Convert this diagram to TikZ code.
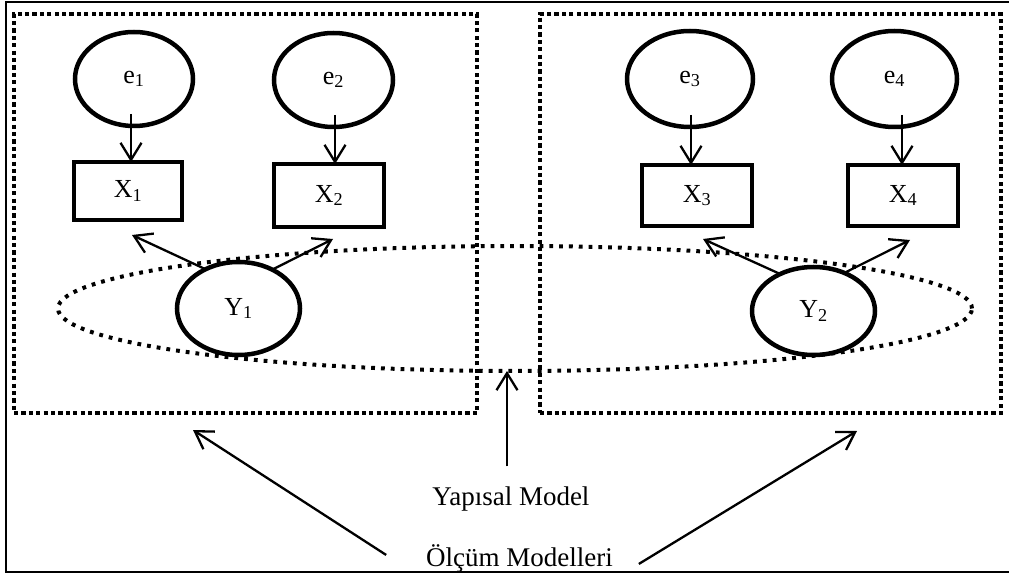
\documentclass[tikz,border=0pt]{standalone}
\usepackage{fontspec}
\setmainfont{Liberation Serif}
\usetikzlibrary{arrows.meta,shapes.geometric}
\begin{document}
\begin{tikzpicture}[x=1pt,y=-1pt,
  lat/.style={ellipse,draw,line width=4.5pt,inner sep=0pt,outer sep=0pt,font=\fontsize{26}{30}\selectfont},
  obs/.style={rectangle,draw,line width=4.5pt,inner sep=0pt,outer sep=0pt,font=\fontsize{26}{30}\selectfont},
  dotbox/.style={rectangle,draw,line width=4.5pt,dash pattern=on 4.2pt off 3.2pt,inner sep=0pt,outer sep=0pt},
  dotell/.style={ellipse,draw,line width=4pt,dash pattern=on 3.8pt off 6pt,inner sep=0pt,outer sep=0pt},
  arr/.style={-{Straight Barb[length=17pt,width=21pt]},line width=2.3pt},
  lbl/.style={font=\fontsize{27}{32}\selectfont,inner sep=0pt,outer sep=0pt}]
\useasboundingbox (0,0) rectangle (1009,577);
\draw[line width=1.8pt] (1009,2) -- (6,2) -- (6,572) -- (1009,572);

% dotted measurement boxes and structural ellipse
\node[dotbox,minimum width=463pt,minimum height=399pt] (L) at (245.5,213.5) {};
\node[dotbox,minimum width=461pt,minimum height=399pt] (R) at (770.5,213.5) {};
\node[dotell,minimum width=914pt,minimum height=125pt] (S) at (515,308.5) {};

% error terms
\node[lat,minimum width=118pt,minimum height=94pt] (e1) at (134,79) {e\textsubscript{1}};
\node[lat,minimum width=119pt,minimum height=94pt] (e2) at (333.5,80) {e\textsubscript{2}};
\node[lat,minimum width=126pt,minimum height=96pt] (e3) at (690,79) {e\textsubscript{3}};
\node[lat,minimum width=125pt,minimum height=96pt] (e4) at (894.5,79) {e\textsubscript{4}};

% observed variables
\node[obs,minimum width=108pt,minimum height=58pt] (X1) at (128,191) {X\textsubscript{1}};
\node[obs,minimum width=110pt,minimum height=63pt] (X2) at (329,195.5) {X\textsubscript{2}};
\node[obs,minimum width=110pt,minimum height=61pt] (X3) at (697,195.5) {X\textsubscript{3}};
\node[obs,minimum width=110pt,minimum height=61pt] (X4) at (903,195.5) {X\textsubscript{4}};

% latent variables
\node[lat,minimum width=123pt,minimum height=93pt] (Y1) at (238.5,308.5) {Y\textsubscript{1}};
\node[lat,minimum width=123pt,minimum height=88pt] (Y2) at (813.5,311) {Y\textsubscript{2}};

% arrows e -> X
\draw[arr] ([xshift=-3pt,yshift=12pt]e1.south) -- ([xshift=3pt]X1.north);
\draw[arr] ([xshift=1.5pt,yshift=12pt]e2.south) -- ([xshift=6pt]X2.north);
\draw[arr] ([xshift=1pt,yshift=12pt]e3.south) -- ([xshift=-6pt]X3.north);
\draw[arr] ([xshift=7.5pt,yshift=12pt]e4.south) -- ([xshift=-1pt]X4.north);

% arrows Y -> X
\draw[arr] (Y1.130) -- ([xshift=4pt,yshift=-15pt]X1.south);
\draw[arr] (Y1.49) -- ([xshift=4pt,yshift=-12pt]X2.south);
\draw[arr] (Y2.132) -- ([xshift=6pt,yshift=-13pt]X3.south);
\draw[arr] (Y2.51) -- ([xshift=7pt,yshift=-14pt]X4.south);

% labels
\node[lbl,anchor=base] (yap) at (511,505) {Yapısal Model};
\node[lbl,anchor=base] (olc) at (519.5,566) {Ölçüm Modelleri};

\draw[arr] ([xshift=-4pt,yshift=20pt]yap.north) -- ([xshift=-8pt]S.south);
\draw[arr] ([xshift=-40pt,yshift=3pt]olc.west) -- ([xshift=-52.5pt,yshift=-17pt]L.south);
\draw[arr] ([xshift=26pt,yshift=-6pt]olc.east) -- ([xshift=86.5pt,yshift=-18pt]R.south);
\end{tikzpicture}
\end{document}
